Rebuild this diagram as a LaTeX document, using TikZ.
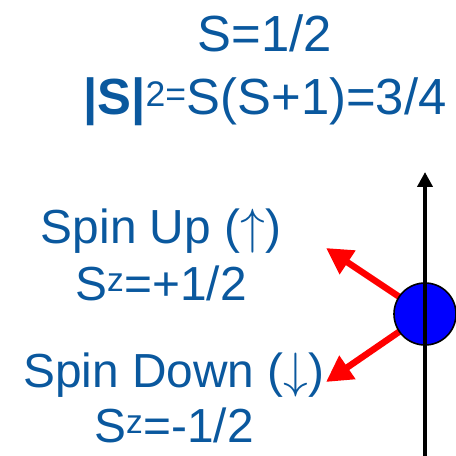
\documentclass[tikz,border=0pt]{standalone}
\usepackage{fontspec}
\usepackage{graphicx}
\setmainfont{Liberation Sans}
\usetikzlibrary{arrows.meta}
\definecolor{txtblue}{RGB}{10,88,158}
\definecolor{ballblue}{RGB}{0,0,255}
\definecolor{spinred}{RGB}{255,0,0}
\newcommand{\bigarr}[1]{\scalebox{2.0}{$#1$}}

\begin{document}
\begin{tikzpicture}[x=1bp,y=-1bp,
    big/.style={txtblue,font=\fontsize{51}{60}\selectfont,anchor=base,inner sep=0pt},
    lbl/.style={txtblue,font=\fontsize{48}{56}\selectfont,anchor=base,inner sep=0pt},
    spin/.style={spinred,line width=6.5bp,-{Triangle[length=26bp,width=27bp]}},
    ball/.style={circle,draw=black,line width=1.6bp,fill=ballblue,minimum size=62bp,inner sep=0pt},
    zaxis/.style={black,line width=4bp,-{Triangle[length=15bp,width=15bp]}}]
  \useasboundingbox (0,0) rectangle (456,456);
  % header
  \node[big] (spinval) at (265,52) {S=1/2};
  \node[big] (casimir) at (265,115) {\textbf{|S|}\textsuperscript{2=}S(S+1)=3/4};
  % labels
  \node[lbl] (uplbl) at (161,243) {Spin Up (\bigarr{\uparrow})};
  \node[lbl] (upsz) at (161,300) {S\textsuperscript{z}=+1/2};
  \node[lbl] (dnlbl) at (174,387) {Spin Down (\bigarr{\downarrow})};
  \node[lbl] (dnsz) at (174,442) {S\textsuperscript{z}=-1/2};
  % spin vectors
  \coordinate (c) at (425,314);
  \coordinate (uptip) at (326,248);
  \coordinate (dntip) at (326,382);
  \draw[spin] (c) -- (uptip);
  \draw[spin] (c) -- (dntip);
  \node[ball] (ball) at (c) {};
  % quantisation axis
  \coordinate (zbot) at (425,456);
  \coordinate (ztop) at (425,172);
  \draw[zaxis] (zbot) -- (ztop);
\end{tikzpicture}
\end{document}
